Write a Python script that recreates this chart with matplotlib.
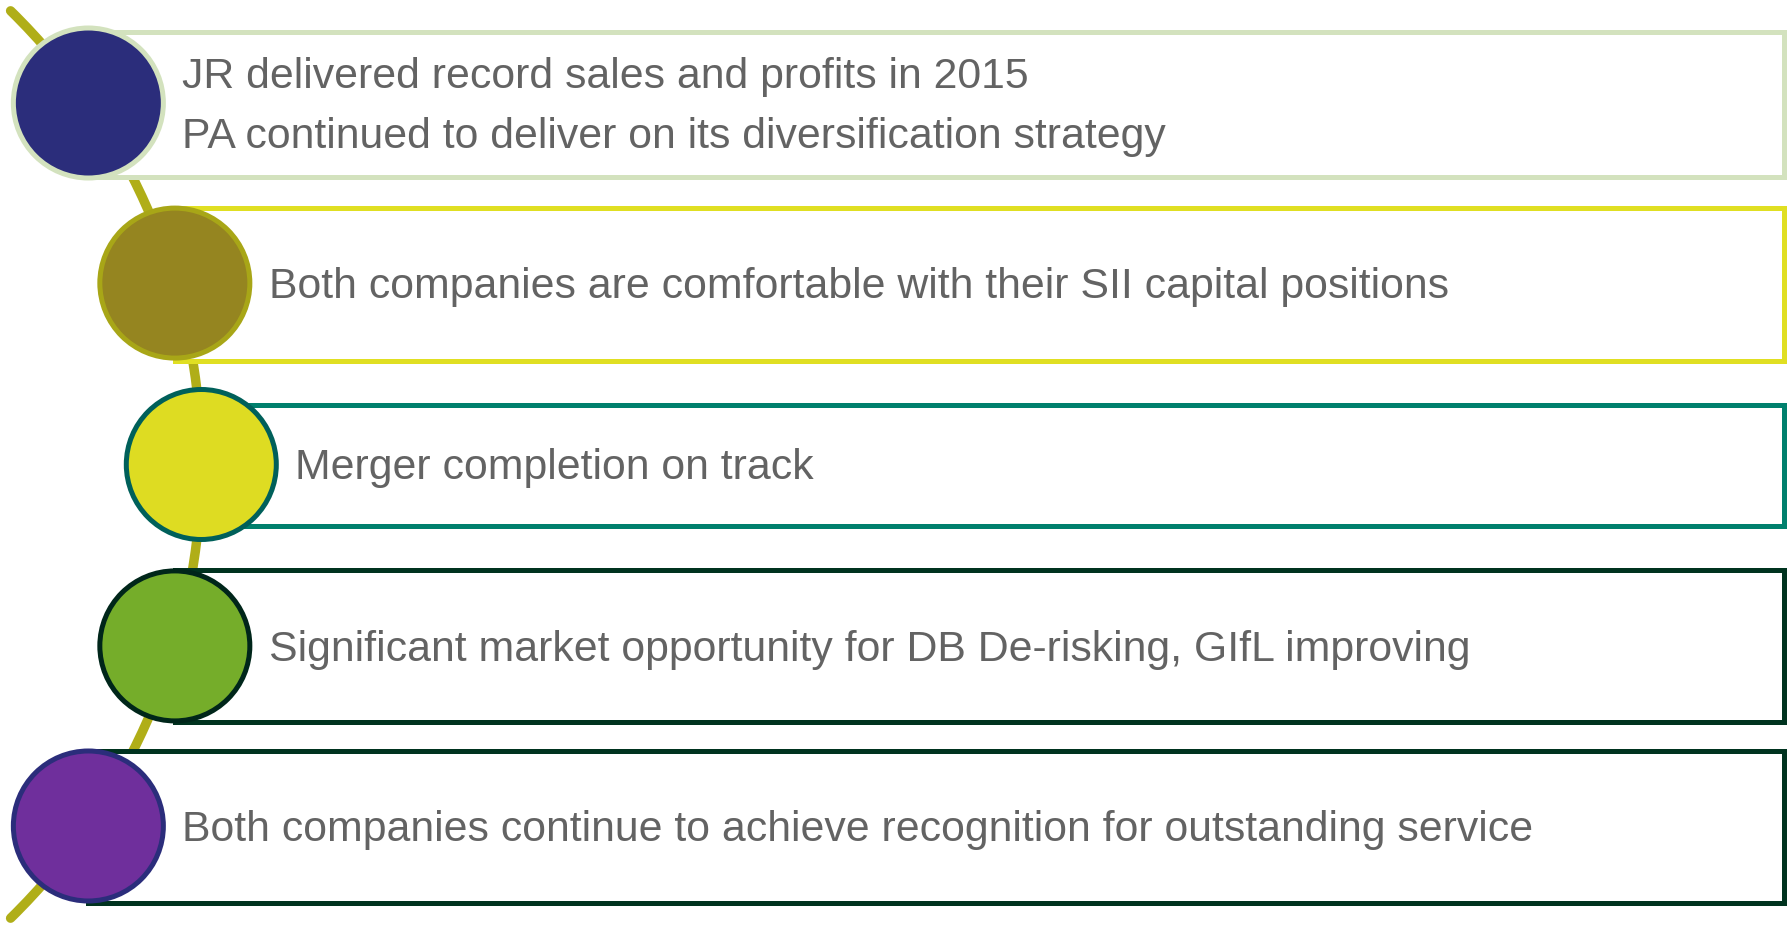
import matplotlib
matplotlib.use("Agg")
import matplotlib.pyplot as plt
from matplotlib.patches import Circle, Rectangle, Arc
import numpy as np

# ---- content ----
items = [
    ["JR delivered record sales and profits in 2015",
     "PA continued to deliver on its diversification strategy"],
    ["Both companies are comfortable with their SII capital positions"],
    ["Merger completion on track"],
    ["Significant market opportunity for DB De-risking, GIfL improving"],
    ["Both companies continue to achieve recognition for outstanding service"],
]
circle_fill = ["#2B2D7B", "#958520", "#DEDC22", "#75AD2A", "#6F2F9C"]
circle_edge = ["#D3E2BE", "#A8A617", "#00605A", "#00261A", "#2B2D7B"]
box_edge = ["#D3E2BE", "#E0DF22", "#00806D", "#00331F", "#00331F"]
arc_color = "#B0AE18"
text_color = "#636363"

# ---- layout (pixels) ----
W, H = 1790, 926
arc_cx, arc_cy, arc_r = -433.7, 464.5, 635.0
circle_r = 75
box_tops = [32, 208, 405, 570, 751]
box_bottoms = [177, 361, 526, 722, 903]
box_right = 1784
angles = [-34.7, -16.6, 0.0, 16.6, 34.7]

fig = plt.figure(figsize=(W / 100, H / 100), dpi=100)
ax = fig.add_axes([0, 0, 1, 1])
ax.set_xlim(0, W)
ax.set_ylim(H, 0)
ax.set_aspect("equal")
ax.axis("off")

ax.add_patch(Arc((arc_cx, arc_cy), 2 * arc_r, 2 * arc_r, theta1=-45.6, theta2=45.6,
                 color=arc_color, lw=6.8, zorder=1, capstyle="round"))

for i, lines in enumerate(items):
    a = np.deg2rad(angles[i])
    cx = arc_cx + arc_r * np.cos(a)
    cy = arc_cy + arc_r * np.sin(a)
    top, bot = box_tops[i], box_bottoms[i]
    ax.add_patch(Rectangle((cx, top), box_right - cx, bot - top, facecolor="white",
                           edgecolor=box_edge[i], lw=3.6, zorder=2))
    ax.add_patch(Circle((cx, cy), circle_r, facecolor=circle_fill[i],
                        edgecolor=circle_edge[i], lw=3.6, zorder=3))
    n = len(lines)
    for j, line in enumerate(lines):
        base = cy + 15 + (j - (n - 1) / 2) * 60
        ax.text(cx + 94, base, line, fontsize=30.75, color=text_color,
                family=["Liberation Sans", "DejaVu Sans"], va="baseline", ha="left", zorder=4)

fig.savefig("out.png", dpi=100, facecolor="white")
